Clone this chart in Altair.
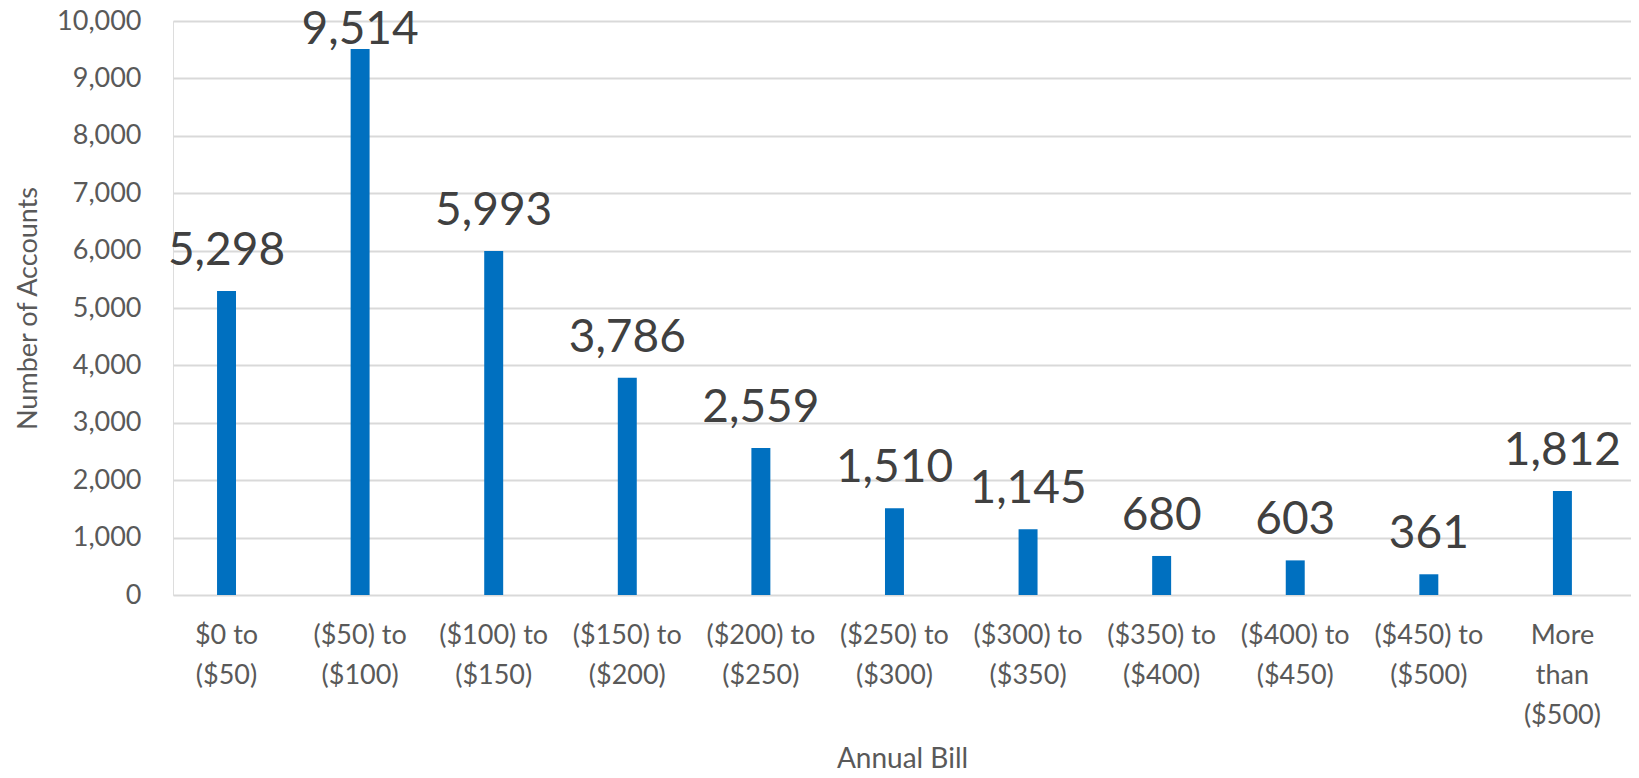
import altair as alt
import pandas as pd

categories = [
    "$0 to\n($50)", "($50) to\n($100)", "($100) to\n($150)", "($150) to\n($200)",
    "($200) to\n($250)", "($250) to\n($300)", "($300) to\n($350)", "($350) to\n($400)",
    "($400) to\n($450)", "($450) to\n($500)", "More\nthan\n($500)",
]
accounts = [5298, 9514, 5993, 3786, 2559, 1510, 1145, 680, 603, 361, 1812]
y_ticks = [0, 1000, 2000, 3000, 4000, 5000, 6000, 7000, 8000, 9000, 10000]

df = pd.DataFrame({"bill": categories, "accounts": accounts})

FONT = "Lato"

x = alt.X(
    "bill:N",
    sort=categories,
    title="Annual Bill",
    scale=alt.Scale(paddingInner=0.858, paddingOuter=0.386, align=0.427),
    axis=alt.Axis(
        labelAngle=0,
        labelExpr="split(datum.value, '\\n')",
        labelLineHeight=40,
        labelFontSize=27,
        labelFont=FONT,
        labelColor="#595959",
        labelPadding=27,
        labelLimit=300,
        ticks=False,
        domain=False,
        titleFont=FONT,
        titleFontSize=28,
        titleFontWeight="normal",
        titleColor="#595959",
        titleBaseline="alphabetic",
        titleY=172,
    ),
)
y = alt.Y(
    "accounts:Q",
    title="Number of Accounts",
    scale=alt.Scale(domain=[0, 10000], nice=False),
    axis=alt.Axis(
        values=y_ticks,
        format=",d",
        labelFontSize=27,
        labelFont=FONT,
        labelColor="#595959",
        labelPadding=32,
        ticks=False,
        domain=False,
        gridColor="#D9D9D9",
        gridWidth=2,
        titleFont=FONT,
        titleFontSize=27,
        titleFontWeight="normal",
        titleColor="#595959",
        titlePadding=14,
    ),
)

base = alt.Chart(df)
bars = base.mark_bar(color="#0070C0").encode(x=x, y=y)

label_x = alt.X("bill:N", sort=categories)
label_text = alt.Text("accounts:Q", format=",d")
labels_low = base.transform_filter("datum.accounts < 9000").mark_text(
    fontSize=46, font=FONT, color="#404040", baseline="alphabetic", dy=-26
).encode(x=label_x, y="accounts:Q", text=label_text)
labels_top = base.transform_filter("datum.accounts >= 9000").mark_text(
    fontSize=46, font=FONT, color="#404040", baseline="alphabetic", dy=-5
).encode(x=label_x, y="accounts:Q", text=label_text)

chart = (
    alt.layer(bars, labels_low, labels_top)
    .properties(
        width=1458,
        height=574,
        autosize=alt.AutoSizeParams(type="none"),
        padding={"left": 165, "top": 13, "right": 0, "bottom": 175},
    )
    .configure_view(stroke=None)
    .configure(background="white")
)

chart.save("out.html", embed_options={"renderer": "svg", "actions": False})
